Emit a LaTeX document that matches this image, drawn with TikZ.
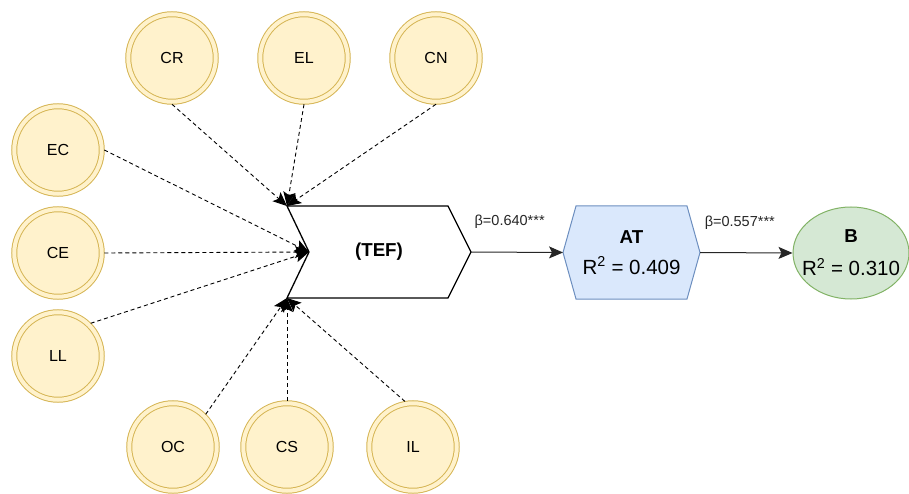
\documentclass[tikz,border=0pt]{standalone}
\usepackage{fontspec}
\setmainfont{Liberation Sans}
\usetikzlibrary{arrows.meta,calc,backgrounds}
\definecolor{circfill}{HTML}{FFF2CC}
\definecolor{circstroke}{HTML}{D6B656}
\definecolor{atfill}{HTML}{DAE8FC}
\definecolor{atstroke}{HTML}{6C8EBF}
\definecolor{bfill}{HTML}{D5E8D4}
\definecolor{bstroke}{HTML}{82B366}
\begin{document}
\begin{tikzpicture}[x=1pt,y=-1pt,
  circ/.style={circle, draw=circstroke, line width=1pt, fill=circfill,
    double=circfill, double distance=4pt, minimum size=87.5pt,
    inner sep=0pt, outer sep=2.5pt, font=\fontsize{16}{19}\selectfont},
  dasharrow/.style={draw=black, line width=0.9pt, dash pattern=on 4pt off 3pt,
    -{Stealth[length=14pt,width=12pt,inset=3pt]}},
  solidarrow/.style={draw=black!85, line width=1pt,
    -{Stealth[length=14pt,width=12pt,inset=3pt]}},
  betalabel/.style={font=\fontsize{14.5}{17}\selectfont, text=black!85},
  tefbox/.style={minimum width=184pt, minimum height=92pt, inner sep=0pt,
    outer sep=0pt, font=\fontsize{18.7}{22}\selectfont\bfseries},
  atbox/.style={minimum width=137pt, minimum height=93pt, inner sep=0pt,
    outer sep=0pt, align=center, font=\fontsize{20.5}{31}\selectfont},
  bbox/.style={minimum width=117pt, minimum height=92pt, inner sep=0pt,
    outer sep=0pt, align=center, font=\fontsize{20.5}{33}\selectfont}
]
\useasboundingbox (0,0) rectangle (909,494);

% indicator circles
\node[circ] (CR) at (172,58) {CR};
\node[circ] (EL) at (304,58) {EL};
\node[circ] (CN) at (436,58) {CN};
\node[circ] (EC) at (58,150) {EC};
\node[circ] (CE) at (58,253) {CE};
\node[circ] (LL) at (58,356) {LL};
\node[circ] (OC) at (173,447) {OC};
\node[circ] (CS) at (287,447) {CS};
\node[circ] (IL) at (413,447) {IL};

% constructs
\node[tefbox] (TEF) at (379,252) {(TEF)};
\coordinate (TEFnotch) at ($(TEF.west)+(22,0)$);
\node[atbox] (AT) at (631.5,252.5) {{\fontsize{18.7}{31}\selectfont\bfseries AT}\\R\textsuperscript{2} = 0.409};
\node[bbox] (B) at (851,253) {{\fontsize{18.7}{33}\selectfont\bfseries B}\\R\textsuperscript{2} = 0.310};

\begin{scope}[on background layer]
  \draw[line width=1.3pt, fill=white]
    (TEF.north west) -- ($(TEF.north east)+(-23,0)$) -- (TEF.east)
    -- ($(TEF.south east)+(-23,0)$) -- (TEF.south west) -- (TEFnotch) -- cycle;
  \draw[draw=atstroke, fill=atfill, line width=1pt]
    (AT.west) -- ($(AT.north west)+(13,0)$) -- ($(AT.north east)+(-13,0)$)
    -- (AT.east) -- ($(AT.south east)+(-13,0)$) -- ($(AT.south west)+(13,0)$) -- cycle;
  \draw[draw=bstroke, fill=bfill, line width=1pt]
    (B.center) ellipse [x radius=58, y radius=46];
\end{scope}

% dashed indicator arrows
\draw[dasharrow] (CR.south) -- (TEF.north west);
\draw[dasharrow] (EL.south) -- (TEF.north west);
\draw[dasharrow] (CN.south) -- (TEF.north west);
\draw[dasharrow] (EC.east) -- (TEFnotch);
\draw[dasharrow] (CE.east) -- (TEFnotch);
\draw[dasharrow] (LL.45) -- (TEFnotch);
\draw[dasharrow] (OC.45) -- (TEF.south west);
\draw[dasharrow] (CS.north) -- (TEF.south west);
\draw[dasharrow] (IL.100) -- (TEF.south west);

% structural paths
\draw[solidarrow] (TEF.east) -- node[betalabel, pos=0.42, yshift=30pt] {β=0.640***} (AT.west);
\draw[solidarrow] (AT.east) -- node[betalabel, pos=0.43, yshift=30pt] {β=0.557***} (B.west);
\end{tikzpicture}
\end{document}
